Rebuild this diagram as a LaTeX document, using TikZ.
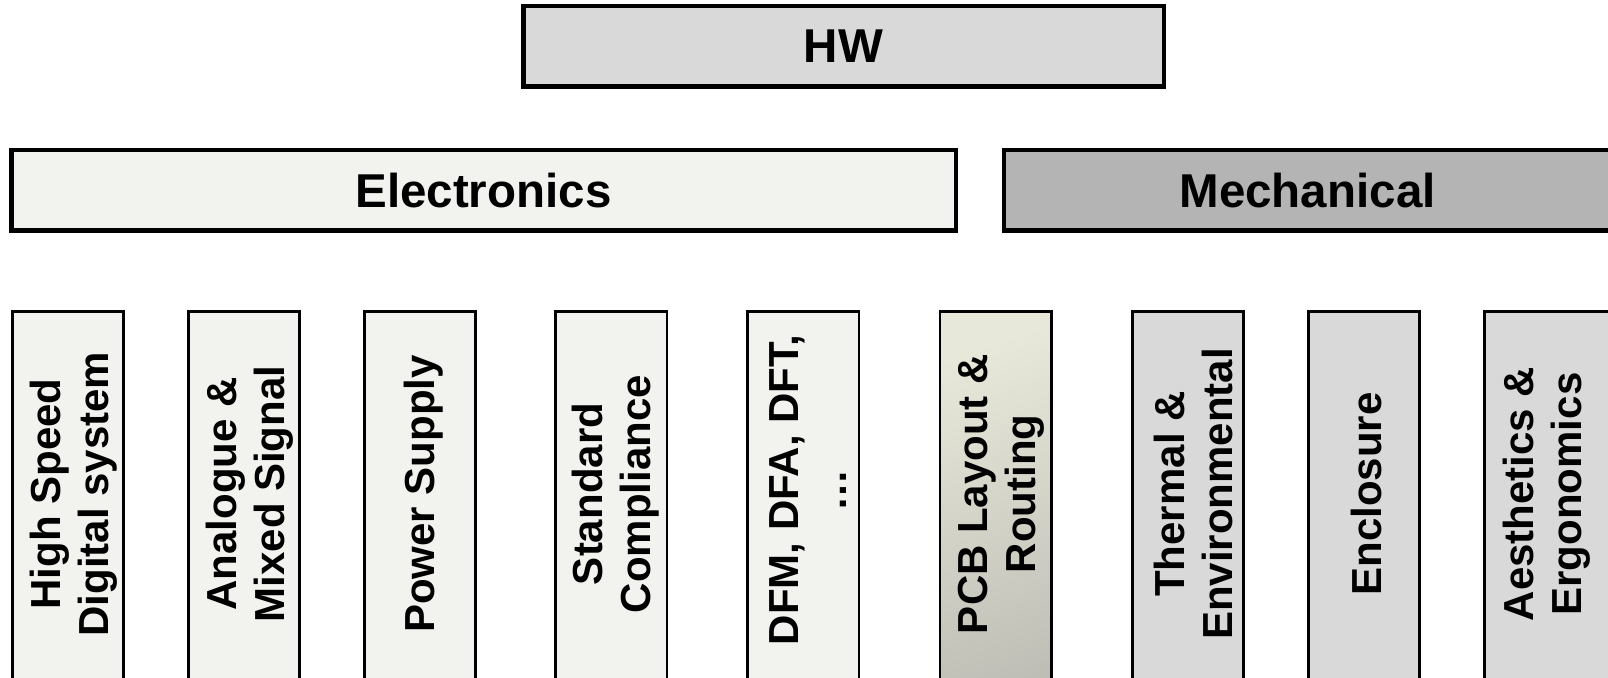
\documentclass[tikz,border=0pt]{standalone}
\usepackage{fontspec}
\setmainfont{Liberation Sans}
\definecolor{hwgray}{HTML}{D9D9D9}
\definecolor{elecfill}{HTML}{F2F2EE}
\definecolor{mechfill}{HTML}{B4B4B4}
\definecolor{mechsub}{HTML}{D9D9D9}
\definecolor{pcbA}{HTML}{E8E8DA}
\definecolor{pcbB}{HTML}{D6D6C2}
\definecolor{pcbC}{HTML}{BEBEB6}
\newcommand{\mybigfont}{\fontsize{23.75}{28}\selectfont\bfseries}
\newcommand{\mysubfont}{\fontsize{21}{24}\selectfont\bfseries}
\begin{document}
\begin{tikzpicture}[x=0.5pt,y=-0.5pt,
  topbox/.style={draw=black, line width=2.25pt, inner sep=0pt, minimum height=40.25pt, font=\mybigfont},
  subbox/.style={draw=black, line width=1.35pt, inner sep=0pt, minimum width=55.65pt, minimum height=204.3pt},
  sublabel/.style={rotate=90, align=center, inner sep=0pt, font=\mysubfont},
  elecsub/.style={subbox, fill=elecfill},
  mechbox/.style={subbox, fill=mechsub}]
\useasboundingbox (0,0) rectangle (1608,678);
\clip (0,0) rectangle (1608,678);
% top level
\node[topbox, fill=hwgray, minimum width=320.25pt] (hw) at (843.5,46.5) {HW};
\node[topbox, fill=elecfill, minimum width=472.25pt] (elec) at (483.5,190.5) {Electronics};
\node[topbox, fill=mechfill, minimum width=303.4pt] (mech) at (1307.6,190.5) {Mechanical};
% electronics sub-boxes
\node[elecsub] (b1) at (68,515.7) {};
\node[sublabel] (b1t) at (74,494) {High Speed\\Digital system};
\node[elecsub] (b2) at (244,515.7) {};
\node[sublabel] (b2t) at (250,494) {Analogue \&\\Mixed Signal};
\node[elecsub] (b3) at (420,515.7) {};
\node[sublabel] (b3t) at (424,494) {Power Supply};
\node[elecsub] (b4) at (611.3,515.7) {};
\node[sublabel] (b4t) at (616,494) {Standard\\Compliance};
\node[elecsub] (b5) at (803.3,515.7) {};
\node[sublabel] (b5t) at (808,490) {DFM, DFA, DFT,\\…};
\node[subbox, top color=pcbA, middle color=pcbB, bottom color=pcbC, shading angle=20] (b6) at (995.7,515.7) {};
\node[sublabel] (b6t) at (1001,494) {PCB Layout \&\\Routing};
% mechanical sub-boxes
\node[mechbox] (b7) at (1188,515.7) {};
\node[sublabel] (b7t) at (1193,494) {Thermal \&\\Environmental};
\node[mechbox] (b8) at (1364,515.7) {};
\node[sublabel] (b8t) at (1366,494) {Enclosure};
\node[mechbox, minimum width=64pt] (b9) at (1548.3,515.7) {};
\node[sublabel] (b9t) at (1547,494) {Aesthetics \&\\Ergonomics};
\end{tikzpicture}
\end{document}
